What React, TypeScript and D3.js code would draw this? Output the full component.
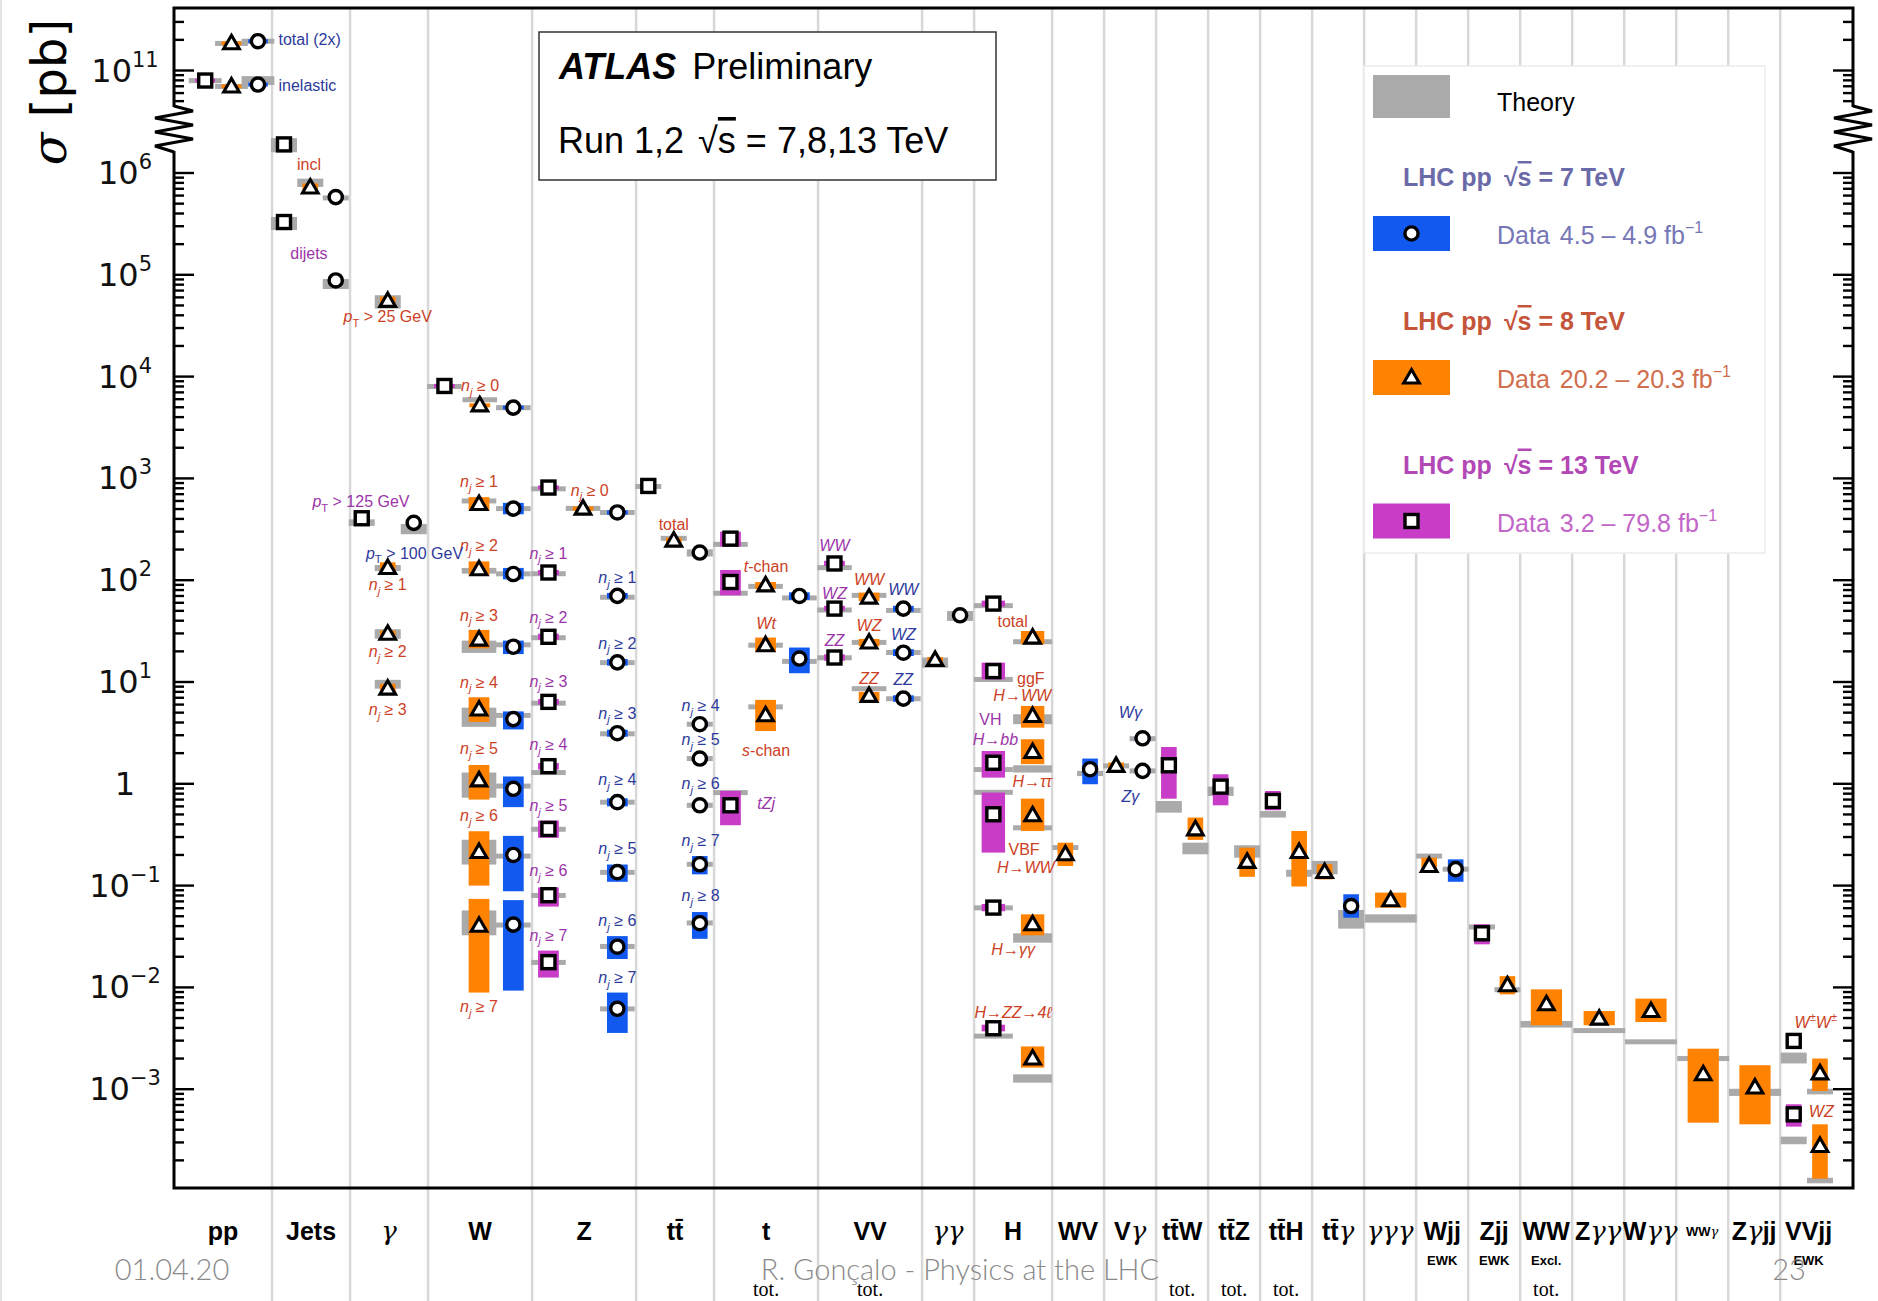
import React from "react";
import * as d3 from "d3";

type Row = [number, number, number, number, number, number]; // slot, value, data lo, data hi, theory lo, theory hi
type Note = [number, number, string, string?]; // slot, value, text, anchor

// x categories, their width in slots and the slot width of one measurement
const categories = ["pp", "Jets", "γ", "W", "Z", "tt\u0304", "t", "VV", "γγ", "H", "WV", "Vγ", "tt\u0304W", "tt\u0304Z", "tt\u0304H", "tt\u0304γ", "γγγ", "Wjj", "Zjj", "WW", "Zγγ", "Wγγ", "WWγ", "Zγjj", "VVjj"];
const categoryUnits = [3.77, 3, 3, 4, 4, 3, 4, 4, 2, 3, 2, 2, 2, 2, 2, 2, 2, 2, 2, 2, 2, 2, 2, 2, 2.8];
const categorySlot = [1.26, 1, 1, 1.33, 1.33, 1, 1.33, 1.33, 1, 1.5, 1, 1, 1, 1, 1, 1, 2, 1, 1, 2, 2, 2, 2, 2, 1];
const notesTop = ["", "", "", "", "", "", "", "", "", "", "", "", "", "", "", "", "", "EWK", "EWK", "Excl.", "", "", "", "", "EWK"];
const notesBottom = ["", "", "", "", "", "", "tot.", "tot.", "", "", "", "", "tot.", "tot.", "tot.", "", "", "", "", "tot.", "", "", "", "", ""];

const yTickPowers = [11, 6, 5, 4, 3, 2, 1, 0, -1, -2, -3];

// 13 TeV (squares)
const pts13: Row[] = [
  [-2.57, 7.97e10, 7.8e10, 8.15e10, 7.7e10, 8.2e10],
  [0.46, 1.91e6, 1.8e6, 2.02e6, 1.6e6, 2.2e6],
  [0.46, 3.3e5, 3.1e5, 3.5e5, 2.75e5, 3.7e5],
  [3.45, 406, 392, 420, 342, 396],
  [6.63, 8090, 7800, 8400, 7750, 8250],
  [10.63, 813, 780, 850, 770, 810],
  [10.63, 119, 112, 126, 110, 122],
  [10.63, 27.8, 26, 29.8, 26, 28.5],
  [10.63, 6.38, 6.0, 6.8, 5.9, 6.5],
  [10.63, 1.49, 1.38, 1.6, 1.25, 1.33],
  [10.63, 0.36, 0.295, 0.436, 0.35, 0.365],
  [10.63, 0.0805, 0.0622, 0.096, 0.078, 0.082],
  [10.63, 0.0177, 0.0125, 0.023, 0.0172, 0.018],
  [14.47, 843, 800, 885, 790, 880],
  [17.63, 256, 215, 300, 218, 232],
  [17.63, 96, 71, 126, 72, 77],
  [17.63, 0.615, 0.392, 0.851, 0.79, 0.85],
  [21.63, 146, 138, 155, 128, 138],
  [21.63, 52.6, 50, 56, 49, 53],
  [21.63, 17.4, 16.2, 18.7, 16.8, 17.8],
  [27.74, 58.9, 55, 63, 54.5, 58],
  [27.74, 12.8, 10.6, 15.5, 10.2, 11],
  [27.74, 1.61, 1.15, 2.1, 1.33, 1.43],
  [27.74, 0.502, 0.211, 0.82, 0.8, 0.85],
  [27.74, 0.0608, 0.056, 0.066, 0.058, 0.063],
  [27.74, 0.00397, 0.0037, 0.0043, 0.0032, 0.00345],
  [34.49, 1.52, 0.714, 2.3, 0.521, 0.678],
  [36.48, 0.938, 0.615, 1.24, 0.76, 0.938],
  [38.49, 0.678, 0.55, 0.85, 0.466, 0.54],
  [46.53, 0.034, 0.0265, 0.0417, 0.038, 0.0405],
  [58.52, 0.00298, 0.0026, 0.0034, 0.00179, 0.00229],
  [58.52, 0.000566, 0.000429, 0.000711, 0.000288, 0.000342],
];

// 8 TeV (triangles)
const pts8: Row[] = [
  [-1.56, 1.85e11, 1.8e11, 1.9e11, 1.79e11, 1.9e11],
  [-1.56, 6.97e10, 6.8e10, 7.15e10, 6.85e10, 7.1e10],
  [1.47, 7.2e5, 6.6e5, 7.9e5, 7.3e5, 8.8e5],
  [4.45, 5.54e4, 5.0e4, 6.1e4, 4.66e4, 6.3e4],
  [4.45, 132, 123, 150, 123, 141],
  [4.45, 29.8, 27.5, 32, 26.6, 33],
  [4.45, 8.6, 7.9, 9.6, 8.6, 10.5],
  [7.99, 5220, 5050, 5400, 5750, 6100],
  [7.96, 560, 483, 655, 575, 627],
  [7.96, 128, 111, 153, 116, 132],
  [7.96, 26.1, 21.4, 32.5, 19.3, 25.5],
  [7.96, 5.37, 4.06, 7.08, 3.63, 5.6],
  [7.96, 1.08, 0.7, 1.53, 0.73, 1.29],
  [7.96, 0.214, 0.1, 0.342, 0.161, 0.282],
  [7.96, 0.0403, 0.0089, 0.074, 0.0325, 0.057],
  [11.96, 505, 480, 530, 495, 520],
  [15.45, 245, 232, 262, 248, 268],
  [18.98, 89, 82, 96, 84, 90],
  [18.98, 23, 19.7, 27.3, 22, 24],
  [18.98, 4.71, 3.3, 6.67, 5.5, 5.9],
  [22.96, 67.5, 62.5, 75.5, 68.5, 73.5],
  [22.96, 24.4, 22.5, 26.5, 23.5, 25.5],
  [22.96, 7.3, 6.5, 8.0, 8.3, 8.9],
  [25.5, 16.5, 15.5, 17.6, 13.8, 17.4],
  [29.25, 27.3, 23.5, 31.7, 23.5, 26.3],
  [29.25, 4.64, 3.56, 5.82, 3.85, 4.82],
  [29.25, 2.05, 1.56, 2.74, 1.29, 1.52],
  [29.25, 0.491, 0.344, 0.715, 0.355, 0.385],
  [29.25, 0.0417, 0.0325, 0.0522, 0.0275, 0.034],
  [29.25, 0.002, 0.00163, 0.00263, 0.00116, 0.0014],
  [30.51, 0.203, 0.156, 0.264, 0.228, 0.245],
  [32.46, 1.5, 1.4, 1.62, 1.45, 1.55],
  [35.51, 0.357, 0.281, 0.466, 0.203, 0.264],
  [37.5, 0.171, 0.122, 0.236, 0.188, 0.249],
  [39.5, 0.214, 0.098, 0.344, 0.122, 0.143],
  [40.48, 0.136, 0.115, 0.162, 0.129, 0.175],
  [43.02, 0.0718, 0.0608, 0.0853, 0.0433, 0.0522],
  [44.5, 0.156, 0.134, 0.188, 0.19, 0.2],
  [47.51, 0.0105, 0.00855, 0.0129, 0.0092, 0.0098],
  [49.01, 0.00682, 0.00425, 0.00957, 0.00403, 0.00468],
  [51.04, 0.00493, 0.00425, 0.00586, 0.0036, 0.00394],
  [53.03, 0.00586, 0.00457, 0.00776, 0.00276, 0.00309],
  [55.04, 0.0014, 0.000469, 0.0025, 0.00189, 0.00212],
  [57.03, 0.00104, 0.000452, 0.00172, 0.000859, 0.00101],
  [59.53, 0.00143, 0.00096, 0.002, 0.00089, 0.00101],
  [59.53, 0.000277, 0.000132, 0.000452, 0.000119, 0.000135],
];

// 7 TeV (circles)
const pts7: Row[] = [
  [-0.54, 1.94e11, 1.88e11, 2.0e11, 1.9e11, 1.98e11],
  [-0.54, 7.28e10, 7.0e10, 7.55e10, 7.2e10, 8.8e10],
  [2.45, 5.8e5, 5.5e5, 6.1e5, 5.4e5, 6.0e5],
  [2.45, 8.8e4, 8.4e4, 9.2e4, 7.25e4, 9.1e4],
  [5.45, 366, 350, 385, 283, 357],
  [9.28, 4960, 4800, 5150, 4850, 5050],
  [9.28, 505, 444, 575, 495, 515],
  [9.28, 115, 102, 132, 113, 118],
  [9.28, 22.2, 18.8, 25.5, 22.6, 23.8],
  [9.28, 4.32, 3.42, 5.14, 4.55, 4.85],
  [9.28, 0.893, 0.59, 1.18, 0.92, 0.98],
  [9.28, 0.2, 0.088, 0.308, 0.19, 0.2],
  [9.28, 0.0414, 0.0093, 0.072, 0.04, 0.042],
  [13.28, 463, 440, 485, 450, 475],
  [13.28, 70.2, 66, 75, 66, 70],
  [13.28, 15.6, 14.5, 16.8, 15, 16],
  [13.28, 3.14, 2.9, 3.4, 3.0, 3.2],
  [13.28, 0.66, 0.6, 0.72, 0.64, 0.68],
  [13.28, 0.1355, 0.109, 0.161, 0.13, 0.14],
  [13.28, 0.0251, 0.019, 0.0319, 0.0245, 0.026],
  [13.28, 0.00616, 0.00357, 0.0089, 0.006, 0.0063],
  [16.45, 187, 177, 197, 171, 201],
  [16.45, 3.85, 3.6, 4.1, 3.75, 3.95],
  [16.45, 1.77, 1.65, 1.9, 1.72, 1.82],
  [16.45, 0.615, 0.57, 0.66, 0.6, 0.63],
  [16.45, 0.162, 0.129, 0.195, 0.158, 0.166],
  [16.45, 0.0427, 0.03, 0.055, 0.042, 0.044],
  [20.28, 70, 64, 76, 65, 69],
  [20.28, 17, 12.2, 21.8, 15.3, 16.6],
  [24.28, 52.6, 49, 56, 49, 52],
  [24.28, 19.4, 18, 21, 19, 20],
  [24.28, 6.87, 6.4, 7.4, 6.7, 7.0],
  [26.46, 45.2, 43, 47.5, 39.8, 49.9],
  [31.46, 1.39, 0.99, 1.77, 1.19, 1.34],
  [33.48, 2.8, 2.65, 2.95, 2.7, 2.85],
  [33.48, 1.34, 1.27, 1.41, 1.3, 1.38],
  [41.5, 0.063, 0.0484, 0.0822, 0.0378, 0.0577],
  [45.52, 0.145, 0.109, 0.181, 0.142, 0.148],
];

// annotations: * toggles italic, _x subscript, ^x superscript
const labels13: Note[] = [
  [1.42, 1.63e5, "dijets"],
  [3.42, 593, "*p*_T > 125 GeV"],
  [10.63, 185, "*n_j* ≥ 1"],
  [10.63, 43.5, "*n_j* ≥ 2"],
  [10.63, 10.2, "*n_j* ≥ 3"],
  [10.63, 2.43, "*n_j* ≥ 4"],
  [10.63, 0.61, "*n_j* ≥ 5"],
  [10.63, 0.14, "*n_j* ≥ 6"],
  [10.63, 0.0327, "*n_j* ≥ 7"],
  [21.63, 218, "*WW*"],
  [21.63, 74.7, "*WZ*"],
  [21.63, 25.6, "*ZZ*"],
  [19.0, 0.637, "*tZj*"],
  [27.63, 4.32, "VH"],
  [27.82, 2.75, "*H→bb*"],
];

const labels8: Note[] = [
  [1.42, 1.2e6, "incl"],
  [4.45, 3.87e4, "*p*_T > 25 GeV"],
  [4.45, 90.8, "*n_j* ≥ 1"],
  [4.45, 19.8, "*n_j* ≥ 2"],
  [4.45, 5.4, "*n_j* ≥ 3"],
  [8.0, 8090, "*n_j* ≥ 0"],
  [7.96, 930, "*n_j* ≥ 1"],
  [7.96, 219, "*n_j* ≥ 2"],
  [7.96, 45.4, "*n_j* ≥ 3"],
  [7.96, 9.98, "*n_j* ≥ 4"],
  [7.96, 2.23, "*n_j* ≥ 5"],
  [7.96, 0.483, "*n_j* ≥ 6"],
  [7.96, 0.00648, "*n_j* ≥ 7"],
  [12.22, 769, "*n_j* ≥ 0"],
  [15.45, 353, "total"],
  [19.0, 136, "*t*-chan"],
  [19.0, 37.2, "*Wt*"],
  [19.0, 2.14, "*s*-chan"],
  [22.96, 102.6, "*WW*"],
  [22.96, 35.6, "*WZ*"],
  [22.96, 10.9, "*ZZ*"],
  [28.48, 39.3, "total"],
  [29.18, 10.9, "ggF"],
  [28.85, 7.32, "*H→WW*"],
  [29.24, 1.05, "*H→ττ*"],
  [28.92, 0.225, "VBF"],
  [28.99, 0.149, "*H→WW*"],
  [28.5, 0.0234, "*H→γγ*"],
  [28.5, 0.00563, "*H→ZZ→4ℓ*"],
  [59.37, 0.00452, "*W^±W^±*"],
  [59.58, 0.0006, "*WZ*"],
];

const labels7: Note[] = [
  [0.25, 2e11, "total (2x)", "start"],
  [0.25, 7.2e10, "inelastic", "start"],
  [5.48, 185, "*p*_T > 100 GeV"],
  [13.28, 107, "*n_j* ≥ 1"],
  [13.28, 24.1, "*n_j* ≥ 2"],
  [13.28, 4.95, "*n_j* ≥ 3"],
  [13.28, 1.1, "*n_j* ≥ 4"],
  [13.28, 0.231, "*n_j* ≥ 5"],
  [13.28, 0.0454, "*n_j* ≥ 6"],
  [13.28, 0.0124, "*n_j* ≥ 7"],
  [16.48, 5.89, "*n_j* ≥ 4"],
  [16.48, 2.72, "*n_j* ≥ 5"],
  [16.48, 1.0, "*n_j* ≥ 6"],
  [16.48, 0.279, "*n_j* ≥ 7"],
  [16.48, 0.0798, "*n_j* ≥ 8"],
  [24.28, 80.5, "*WW*"],
  [24.28, 29.1, "*WZ*"],
  [24.28, 10.5, "*ZZ*"],
  [33.01, 5.0, "*Wγ*"],
  [33.01, 0.75, "*Zγ*"],
];

const W = 1878;
const H = 1301;
const X0 = 174, X1 = 1853, Y0 = 8, Y1 = 1188;
const C7 = "#1259ef", C8 = "#ff8200", C13 = "#c83cc8", THEORY = "#aaaaaa";
const L7 = "#2d3a9c", L8 = "#cc4125", L13 = "#9b35a8";
const SANS = "'Liberation Sans', Arial, sans-serif";

const uStart = -3.77;
const bounds = categoryUnits.reduce((acc, w) => { acc.push(acc[acc.length - 1] + w); return acc; }, [uStart]);
const x = d3.scaleLinear().domain([uStart, bounds[bounds.length - 1]]).range([X0, X1]);
// broken log axis: an upper piece around 10^11 and a lower piece 10^6 .. 10^-4
const yHigh = d3.scaleLog().domain([1e11, 1e10]).range([70.5, 172.3]);
const yLow = d3.scaleLog().domain([1e6, 1e-3]).range([173, 1089.2]);
const y = (v: number) => (v >= 1e9 ? yHigh(v) : yLow(v));
const catOf = (u: number) => Math.max(0, Math.min(categories.length - 1, d3.bisectRight(bounds, u) - 1));

function segments(s: string) {
  const segs: { t: string; it: boolean; sh: number }[] = [];
  let it = false;
  const chars = Array.from(s);
  for (let i = 0; i < chars.length; i++) {
    let c = chars[i];
    if (c === "*") { it = !it; continue; }
    let sh = 0;
    if (c === "_" || c === "^") { sh = c === "_" ? 1 : -1; c = chars[++i]; }
    const last = segs[segs.length - 1];
    if (last && last.it === it && last.sh === sh) last.t += c;
    else segs.push({ t: c, it, sh });
  }
  return segs;
}

function Rich({ s, size }: { s: string; size: number }) {
  let prev = 0;
  return (
    <>
      {segments(s).map((g, i) => {
        const off = g.sh === 1 ? size * 0.3 : g.sh === -1 ? -size * 0.45 : 0;
        const dy = off - prev;
        prev = off;
        return (
          <tspan key={i} dy={dy || undefined} fontStyle={g.it ? "italic" : "normal"} fontSize={g.sh ? size * 0.7 : undefined}>
            {g.t}
          </tspan>
        );
      })}
    </>
  );
}

function Marker({ shape, cx, cy }: { shape: string; cx: number; cy: number }) {
  if (shape === "square")
    return <rect x={cx - 6.5} y={cy - 6.5} width={13} height={13} fill="#fff" stroke="#000" strokeWidth={3.4} />;
  if (shape === "circle") return <circle cx={cx} cy={cy} r={6.6} fill="#fff" stroke="#000" strokeWidth={3.4} />;
  return (
    <path d={`M${cx},${cy - 8} L${cx + 7.8},${cy + 5.5} L${cx - 7.8},${cy + 5.5} Z`} fill="#fff" stroke="#000" strokeWidth={3.1} />
  );
}

const series = [
  { rows: pts13, color: C13, shape: "square" },
  { rows: pts8, color: C8, shape: "triangle" },
  { rows: pts7, color: C7, shape: "circle" },
];

function band(lo: number, hi: number, minH: number) {
  const a = y(hi), b = y(lo);
  const h = Math.max(b - a, minH);
  return { top: (a + b) / 2 - h / 2, h };
}

function Labels({ notes, color }: { notes: Note[]; color: string }) {
  return (
    <g fill={color} fontFamily={SANS} fontSize={16}>
      {notes.map((n, i) => (
        <text key={i} x={x(n[0])} y={y(n[1]) + 5.5} textAnchor={n[3] === "start" ? "start" : "middle"}>
          <Rich s={n[2]} size={16} />
        </text>
      ))}
    </g>
  );
}

function CategoryLabel({ name, cx }: { name: string; cx: number }) {
  const small = name === "WWγ";
  const parts = Array.from(name.normalize("NFD"));
  const runs: { t: string; g: boolean }[] = [];
  parts.forEach((c) => {
    const g = c === "γ";
    const last = runs[runs.length - 1];
    if (last && last.g === g) last.t += c;
    else runs.push({ t: c, g });
  });
  return (
    <text x={cx} y={small ? 1236 : 1240} textAnchor="middle" fontSize={small ? 13 : 25} fontFamily={SANS} fontWeight="bold" fill="#000">
      {runs.map((r, i) =>
        r.g ? (
          <tspan key={i} fontFamily="'DejaVu Serif', serif" fontStyle="italic" fontWeight="normal" fontSize={small ? 13 : 26}>
            {r.t}
          </tspan>
        ) : (
          <tspan key={i}>{r.t}</tspan>
        )
      )}
    </text>
  );
}

const zigzag = (ax: number) =>
  `M${ax},106 L${ax + 19},111 L${ax - 19},118 L${ax + 19},125 L${ax - 19},132 L${ax + 19},139 L${ax - 19},146 L${ax},152`;

export default function App() {
  const ticks: { v: number; major: boolean }[] = [];
  for (let k = -4; k <= 11; k++) {
    for (let m = 1; m <= 9; m++) {
      const v = m * Math.pow(10, k);
      const yy = y(v);
      const ok = v >= 1e9 ? yy > 10 && yy < 104 : yy > 154 && yy < Y1 - 2;
      if (ok) ticks.push({ v, major: m === 1 });
    }
  }

  const legendRows = [
    { head: "7", data: "4.5 – 4.9", color: C7, shape: "circle", hc: "#6a6aa8", dc: "#7676b6", y: 186 },
    { head: "8", data: "20.2 – 20.3", color: C8, shape: "triangle", hc: "#c4553a", dc: "#d06e4e", y: 330 },
    { head: "13", data: "3.2 – 79.8", color: C13, shape: "square", hc: "#b248b6", dc: "#c266c8", y: 473.5 },
  ];

  return (
    <div style={{ position: "absolute", left: 0, top: 0 }}>
      <svg width={W} height={H} viewBox={`0 0 ${W} ${H}`} style={{ display: "block" }}>
        <rect x={0} y={0} width={W} height={H} fill="#fff" />
        <line x1={1} x2={1} y1={0} y2={H} stroke="#e4e4e4" strokeWidth={2} />

        {/* category separators */}
        {bounds.slice(1, -1).map((b, i) => (
          <line key={i} x1={x(b)} x2={x(b)} y1={Y0} y2={H} stroke="#d8d8d8" strokeWidth={2.5} />
        ))}

        {/* theory bands */}
        {series.map((s, si) =>
          s.rows.map((r, i) => {
            const cw = categorySlot[catOf(r[0])];
            const b = band(r[4], r[5], 5);
            return <rect key={`t${si}-${i}`} x={x(r[0] - cw / 2)} y={b.top} width={x(r[0] + cw / 2) - x(r[0] - cw / 2)} height={b.h} fill={THEORY} />;
          })
        )}
        {/* data uncertainty */}
        {series.map((s, si) =>
          s.rows.map((r, i) => {
            const cw = categorySlot[catOf(r[0])] * 0.6;
            const b = band(r[2], r[3], 4);
            return <rect key={`d${si}-${i}`} x={x(r[0] - cw / 2)} y={b.top} width={x(r[0] + cw / 2) - x(r[0] - cw / 2)} height={b.h} fill={s.color} />;
          })
        )}
        {/* markers */}
        {series.map((s, si) => s.rows.map((r, i) => <Marker key={`m${si}-${i}`} shape={s.shape} cx={x(r[0])} cy={y(r[1])} />))}

        <Labels notes={labels13} color={L13} />
        <Labels notes={labels8} color={L8} />
        <Labels notes={labels7} color={L7} />

        {/* ATLAS box */}
        <rect x={539} y={32} width={457} height={148} fill="#fff" stroke="#333" strokeWidth={1.5} />
        <text x={559} y={79} fontFamily={SANS} fontSize={36} fill="#000">
          <tspan fontWeight="bold" fontStyle="italic">ATLAS</tspan>
          <tspan dx={16}>Preliminary</tspan>
        </text>
        <text x={558} y={153} fontFamily={SANS} fontSize={36} fill="#000">
          Run 1,2<tspan dx={14}>√</tspan><tspan style={{ textDecoration: "overline" }}>s</tspan> = 7,8,13 TeV
        </text>

        {/* legend */}
        <rect x={1364} y={66} width={401} height={487} fill="#fff" stroke="#ececec" strokeWidth={1.5} />
        <rect x={1373} y={75} width={77} height={43} fill={THEORY} />
        <text x={1497} y={111} fontFamily={SANS} fontSize={25} fill="#000">Theory</text>
        {legendRows.map((l, i) => (
          <g key={i}>
            <text x={1403} y={l.y} fontFamily={SANS} fontSize={25} fontWeight="bold" fill={l.hc}>
              LHC pp<tspan dx={12}>√</tspan><tspan style={{ textDecoration: "overline" }}>s</tspan> = {l.head} TeV
            </text>
            <rect x={1373} y={l.y + 30} width={77} height={35} fill={l.color} />
            <Marker shape={l.shape} cx={1411.5} cy={l.y + 47.5} />
            <text x={1497} y={l.y + 58} fontFamily={SANS} fontSize={25} fill={l.dc}>
              Data<tspan dx={10}>{l.data} fb</tspan><tspan dy={-11} fontSize={16}>−1</tspan>
            </text>
          </g>
        ))}

        {/* frame and ticks */}
        <rect x={X0} y={Y0} width={X1 - X0} height={Y1 - Y0} fill="none" stroke="#000" strokeWidth={3} />
        {ticks.map((t, i) => (
          <g key={i} stroke="#000" strokeWidth={2.4}>
            <line x1={X0} x2={X0 + (t.major ? 20 : 10)} y1={y(t.v)} y2={y(t.v)} />
            <line x1={X1} x2={X1 - (t.major ? 20 : 10)} y1={y(t.v)} y2={y(t.v)} />
          </g>
        ))}
        {[X0, X1].map((ax) => (
          <g key={ax}>
            <rect x={ax - 20} y={107} width={40} height={44} fill="#fff" />
            <path d={zigzag(ax)} fill="none" stroke="#000" strokeWidth={3} strokeLinejoin="miter" />
          </g>
        ))}

        {/* y tick labels */}
        <g fontFamily="'DejaVu Sans', sans-serif" fill="#111" fontSize={32}>
          {yTickPowers.map((k) => (
            <text key={k} x={125} y={y(Math.pow(10, k)) + 11} textAnchor="middle">
              {k === 0 ? "1" : (
                <>
                  10<tspan dy={-15} fontSize={21}>{k < 0 ? `−${-k}` : k}</tspan>
                </>
              )}
            </text>
          ))}
        </g>
        <text transform="translate(66,92) rotate(-90)" textAnchor="middle" fontSize={48} fontFamily="'DejaVu Sans', sans-serif" fill="#000">
          <tspan fontFamily="'DejaVu Serif', serif" fontStyle="italic">σ</tspan> [pb]
        </text>

        {/* category labels */}
        {categories.map((c, i) => {
          const cx = x((bounds[i] + bounds[i + 1]) / 2) - (i === categories.length - 1 ? 8 : 0);
          return (
            <g key={c}>
              <CategoryLabel name={c} cx={cx} />
              {notesTop[i] && (
                <text x={cx} y={1265} textAnchor="middle" fontFamily={SANS} fontWeight="bold" fontSize={13}>{notesTop[i]}</text>
              )}
              {notesBottom[i] && (
                <text x={cx} y={1296} textAnchor="middle" fontFamily="'Liberation Serif', serif" fontSize={20}>{notesBottom[i]}</text>
              )}
            </g>
          );
        })}

        {/* slide footer */}
        <g fontFamily="Lato, 'Open Sans', sans-serif" fontWeight={300} fontSize={29} fill="#8a8a8a" textAnchor="middle">
          <text x={172} y={1280}>01.04.20</text>
          <text x={960} y={1280}>R. Gonçalo - Physics at the LHC</text>
          <text x={1789} y={1280}>23</text>
        </g>
      </svg>
    </div>
  );
}
